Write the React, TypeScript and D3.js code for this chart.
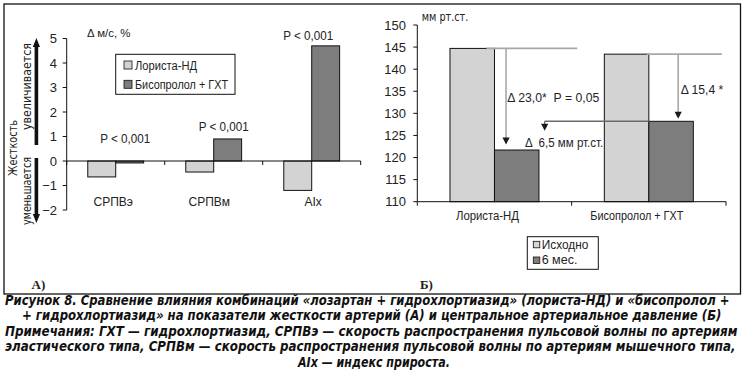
import React from 'react';
import * as d3 from 'd3';

// ---------- Data: panel A (arterial stiffness) ----------
const stiffCategories = ['СРПВэ', 'СРПВм', 'AIx'];
const stiffSeries = ['Лориста-НД', 'Бисопролол + ГХТ'];
const loristaDelta = [-0.65, -0.45, -1.2];
const bisoDelta = [-0.08, 0.9, 4.7];
const stiffPValues = ['P < 0,001', 'P < 0,001', 'P < 0,001'];
const stiffTicks = [-2, -1, 0, 1, 2, 3, 4, 5];

// ---------- Data: panel B (central BP) ----------
const bpCategories = ['Лориста-НД', 'Бисопролол + ГХТ'];
const bpSeries = ['Исходно', '6 мес.'];
const bpBaseline = [144.7, 143.4];
const bpSixMonths = [121.7, 128.2];
const bpTicks = [110, 115, 120, 125, 130, 135, 140, 145, 150];
const bpNotes = ['Δ 23,0*  P = 0,05', 'Δ 15,4 *', 'Δ  6,5 мм рт.ст.'];

// ---------- Caption ----------
const captionLines = [
  'Рисунок 8. Сравнение влияния комбинаций «лозартан + гидрохлортиазид» (лориста-НД) и «бисопролол +',
  '+ гидрохлортиазид» на показатели жесткости артерий (А) и центральное артериальное давление (Б)',
  'Примечания: ГХТ — гидрохлортиазид, СРПВэ — скорость распространения пульсовой волны по артериям',
  'эластического типа, СРПВм — скорость распространения пульсовой волны по артериям мышечного типа,',
  'AIx — индекс прироста.',
];

const LIGHT = '#d3d3d3';
const DARK = '#7d7d7d';
const FONT = '"Liberation Sans", Arial, sans-serif';
const NARROW = '"Liberation Sans Narrow", "DejaVu Sans Condensed", "Liberation Sans", sans-serif';
const CAPTION_SIZE = 14.5;
const CAPTION_FONT = `italic bold ${CAPTION_SIZE}px ${NARROW}`;

let measureCtx: CanvasRenderingContext2D | null = null;
function measure(text: string, font: string): number {
  if (typeof document === 'undefined') return text.length * 7;
  if (!measureCtx) measureCtx = document.createElement('canvas').getContext('2d');
  if (!measureCtx) return text.length * 7;
  measureCtx.font = font;
  return measureCtx.measureText(text).width || text.length * 7;
}

export default function App() {
  // ----- Panel A scales -----
  const yA = d3.scaleLinear().domain([-2, 5]).range([210, 38.5]);
  const xA = d3.scaleBand<string>().domain(stiffCategories).range([66.7, 360.7]).paddingInner(0.43).paddingOuter(0.215);
  const xA1 = d3.scaleBand<string>().domain(stiffSeries).range([0, xA.bandwidth()]);
  const stepA = xA.step();
  const boundsA = d3.range(stiffCategories.length + 1).map((i) => 66.7 + i * stepA);

  // ----- Panel B scales -----
  const yB = d3.scaleLinear().domain([110, 150]).range([201.7, 25]);
  const xB = d3.scaleBand<string>().domain(bpCategories).range([417.3, 726]).paddingInner(0.4234).paddingOuter(0.2117);
  const xB1 = d3.scaleBand<string>().domain(bpSeries).range([0, xB.bandwidth()]);
  const stepB = xB.step();
  const boundsB = d3.range(bpCategories.length + 1).map((i) => 417.3 + i * stepB);

  const barsA = stiffCategories.flatMap((c, i) => [
    { c, s: stiffSeries[0], v: loristaDelta[i], fill: LIGHT },
    { c, s: stiffSeries[1], v: bisoDelta[i], fill: DARK },
  ]);
  const barsB = bpCategories.flatMap((c, i) => [
    { c, s: bpSeries[0], v: bpBaseline[i], fill: LIGHT },
    { c, s: bpSeries[1], v: bpSixMonths[i], fill: DARK },
  ]);

  // P label positions (layout offsets relative to dark bar centers)
  const pOffsets = [{ dx: -4.5, y: 142.8 }, { dx: -4, y: 131.2 }, { dx: -17.5, y: 39.5 }];

  // Annotation geometry for panel B
  const g0 = xB(bpCategories[0])!;
  const g1 = xB(bpCategories[1])!;
  const bw = xB.bandwidth();
  const yBase0 = yB(bpBaseline[0]);
  const yBase1 = yB(bpBaseline[1]);
  const y6m0 = yB(bpSixMonths[0]);
  const y6m1 = yB(bpSixMonths[1]);
  const arrowX0 = g0 + bw * 0.63;
  const arrowX1 = g1 + bw * 0.83;
  const arrowX2 = g0 + bw + 5.7;

  const head = (x: number, tipY: number, w = 3.6, h = 7) =>
    `M${x - w},${tipY - h}L${x + w},${tipY - h}L${x},${tipY}Z`;

  const captionY = [304.5, 320, 335.5, 351, 366.5];
  const captionBox: Array<[number, number]> = [
    [5, 725],
    [22, 700],
    [5, 733],
    [5, 731],
    [298, 152],
  ];

  return (
    <svg width={745} height={375} style={{ position: 'absolute', left: 0, top: 0, background: '#fff' }}>
      <rect x={0} y={0} width={745} height={375} fill="#fff" />
      {/* Frame */}
      <rect x={4} y={4} width={736.5} height={290} fill="none" stroke="#111" strokeWidth={1.3} />

      {/* ================= Panel A ================= */}
      {/* side arrows */}
      <rect x={34.6} y={46} width={3.6} height={99} fill="#111" />
      <path d={`M36.4,38L40,47L32.8,47Z`} fill="#111" />
      <rect x={34.6} y={158} width={3.6} height={57} fill="#111" />
      <path d={`M36.4,223L40,214L32.8,214Z`} fill="#111" />
      <text transform="translate(12.5,148) rotate(-90)" textAnchor="middle" dy="0.35em" fontFamily={NARROW} fontSize={12.5} textLength={56} lengthAdjust="spacingAndGlyphs" fill="#222">Жесткость</text>
      <text transform="translate(27,86.5) rotate(-90)" textAnchor="middle" dy="0.35em" fontFamily={NARROW} fontSize={12.5} textLength={87} lengthAdjust="spacingAndGlyphs" fill="#222">увеличивается</text>
      <text transform="translate(27,191) rotate(-90)" textAnchor="middle" dy="0.35em" fontFamily={NARROW} fontSize={12.5} textLength={68} lengthAdjust="spacingAndGlyphs" fill="#222">уменьшается</text>

      {/* unit label */}
      <text x={87} y={36.5} fontFamily={FONT} fontSize={11.5} textLength={43.5} lengthAdjust="spacingAndGlyphs" fill="#222">Δ м/с, %</text>

      {/* bars */}
      {barsA.map((b, i) => {
        const x = xA(b.c)! + xA1(b.s)!;
        const y0 = yA(0);
        const y1 = yA(b.v);
        return (
          <rect key={i} x={x} y={Math.min(y0, y1)} width={xA1.bandwidth()} height={Math.abs(y1 - y0)}
            fill={b.fill} stroke="#111" strokeWidth={1} />
        );
      })}

      {/* y axis */}
      <line x1={66.7} x2={66.7} y1={yA(5)} y2={yA(-2)} stroke="#111" strokeWidth={1} />
      {stiffTicks.map((t) => (
        <g key={t}>
          <line x1={62.7} x2={66.7} y1={yA(t)} y2={yA(t)} stroke="#111" strokeWidth={1} />
          <text x={57} y={yA(t)} dy="0.36em" textAnchor="end" fontFamily={FONT} fontSize={13} fill="#222">
            {t < 0 ? `\u2212${Math.abs(t)}` : t}
          </text>
        </g>
      ))}
      {/* x axis */}
      <line x1={66.7} x2={360.7} y1={yA(0)} y2={yA(0)} stroke="#111" strokeWidth={1} />
      {boundsA.map((bx, i) => (
        <line key={i} x1={bx} x2={bx} y1={yA(0)} y2={yA(0) + 4} stroke="#111" strokeWidth={1} />
      ))}
      {stiffCategories.map((c, i) => (
        <text key={c} x={xA(c)! + xA.bandwidth() / 2 + [-2.5, -4.5, 1.5][i]} y={206} textAnchor="middle"
          fontFamily={FONT} fontSize={12} fill="#222">{c}</text>
      ))}
      {/* P labels */}
      {stiffCategories.map((c, i) => (
        <text key={c} x={xA(c)! + xA1(stiffSeries[1])! + xA1.bandwidth() / 2 + pOffsets[i].dx} y={pOffsets[i].y}
          textAnchor="middle" fontFamily={FONT} fontSize={12.5} textLength={50} lengthAdjust="spacingAndGlyphs" fill="#222">
          {stiffPValues[i]}
        </text>
      ))}

      {/* legend A */}
      <rect x={115.7} y={54.3} width={119.3} height={40} fill="#fff" stroke="#111" strokeWidth={1} />
      {stiffSeries.map((s, i) => (
        <g key={s}>
          <rect x={124} y={61 + i * 19.3} width={8} height={8} fill={i === 0 ? LIGHT : DARK} stroke="#111" strokeWidth={0.8} />
          <text x={135} y={69.5 + i * 19.3} fontFamily={FONT} fontSize={12.5} fill="#222"
            textLength={i === 0 ? 62 : 93} lengthAdjust="spacingAndGlyphs">{s}</text>
        </g>
      ))}

      <text x={31.5} y={289} fontFamily='"Liberation Serif", "Times New Roman", serif' fontWeight="bold" fontSize={13} fill="#222">A)</text>

      {/* ================= Panel B ================= */}
      <text x={421.7} y={20.5} fontFamily={NARROW} fontSize={11.5} textLength={46.6} lengthAdjust="spacingAndGlyphs" fill="#222">мм рт.ст.</text>

      {barsB.map((b, i) => {
        const x = xB(b.c)! + xB1(b.s)!;
        const y0 = yB(110);
        const y1 = yB(b.v);
        return (
          <rect key={i} x={x} y={y1} width={xB1.bandwidth()} height={y0 - y1} fill={b.fill} stroke="#111" strokeWidth={1} />
        );
      })}

      {/* y axis */}
      <line x1={417.3} x2={417.3} y1={yB(150)} y2={yB(110)} stroke="#111" strokeWidth={1} />
      {bpTicks.map((t) => (
        <g key={t}>
          <line x1={413.3} x2={417.3} y1={yB(t)} y2={yB(t)} stroke="#111" strokeWidth={1} />
          <text x={406} y={yB(t)} dy="0.36em" textAnchor="end" fontFamily={FONT} fontSize={13} fill="#222">{t}</text>
        </g>
      ))}
      <line x1={417.3} x2={726} y1={yB(110)} y2={yB(110)} stroke="#111" strokeWidth={1} />
      {boundsB.map((bx, i) => (
        <line key={i} x1={bx} x2={bx} y1={yB(110)} y2={yB(110) + 4} stroke="#111" strokeWidth={1} />
      ))}
      {bpCategories.map((c, i) => (
        <text key={c} x={xB(c)! + bw / 2 + [-7, -12][i]} y={219.5} textAnchor="middle" fontFamily={FONT} fontSize={12}
          textLength={i === 0 ? 63 : 93} lengthAdjust="spacingAndGlyphs" fill="#222">{c}</text>
      ))}

      {/* annotations */}
      <line x1={g0 + bw / 2 - 8} x2={577.3} y1={yBase0} y2={yBase0} stroke="#a8a8a8" strokeWidth={1.6} />
      <line x1={arrowX0} x2={arrowX0} y1={yBase0} y2={y6m0 - 11} stroke="#a8a8a8" strokeWidth={1.6} />
      <path d={head(arrowX0, y6m0 - 5.5)} fill="#1a1a1a" />

      <line x1={g1 + bw / 2 - 2} x2={722} y1={yBase1} y2={yBase1} stroke="#a8a8a8" strokeWidth={1.6} />
      <line x1={arrowX1} x2={arrowX1} y1={yBase1} y2={y6m1 - 8} stroke="#a8a8a8" strokeWidth={1.6} />
      <path d={head(arrowX1, y6m1 - 2.5)} fill="#1a1a1a" />

      <line x1={arrowX2} x2={g1 + bw / 2} y1={y6m1} y2={y6m1} stroke="#6a6a6a" strokeWidth={1.4} />
      <line x1={arrowX2} x2={arrowX2} y1={y6m1} y2={y6m1 + 3} stroke="#6a6a6a" strokeWidth={1.4} />
      <path d={head(arrowX2, y6m1 + 9.5)} fill="#1a1a1a" />

      <text x={507.3} y={101.8} fontFamily={FONT} fontSize={12.5} textLength={92} lengthAdjust="spacingAndGlyphs" fill="#1e1e2e" xmlSpace="preserve" style={{ whiteSpace: 'pre' }}>{bpNotes[0]}</text>
      <text x={680.7} y={93.5} fontFamily={FONT} fontSize={12.5} textLength={42.6} lengthAdjust="spacingAndGlyphs" fill="#1e1e2e">{bpNotes[1]}</text>
      <text x={525} y={146.8} fontFamily={FONT} fontSize={12.5} textLength={78.3} lengthAdjust="spacingAndGlyphs" fill="#1e1e2e" style={{ whiteSpace: 'pre' }}>{bpNotes[2]}</text>

      {/* legend B */}
      <rect x={527.3} y={236.7} width={71} height={32.6} fill="#fff" stroke="#111" strokeWidth={1} />
      {bpSeries.map((s, i) => (
        <g key={s}>
          <rect x={533.3} y={241.3 + i * 15.7} width={6.5} height={6.5} fill={i === 0 ? LIGHT : DARK} stroke="#111" strokeWidth={0.8} />
          <text x={541.7} y={248.5 + i * 15.7} fontFamily={FONT} fontSize={12.5} fill="#222"
            textLength={i === 0 ? 46.6 : 35.7} lengthAdjust="spacingAndGlyphs">{s}</text>
        </g>
      ))}

      <text x={420} y={289} fontFamily='"Liberation Serif", "Times New Roman", serif' fontWeight="bold" fontSize={13} fill="#222">Б)</text>

      {/* ================= Caption ================= */}
      {captionLines.map((line, i) => {
        const natural = measure(line, CAPTION_FONT);
        const sx = captionBox[i][1] / natural;
        return (
          <text key={i} transform={`translate(${captionBox[i][0]},${captionY[i]}) scale(${sx},1)`}
            fontFamily={NARROW} fontWeight="bold" fontStyle="italic" fontSize={CAPTION_SIZE} fill="#111">{line}</text>
        );
      })}
    </svg>
  );
}
